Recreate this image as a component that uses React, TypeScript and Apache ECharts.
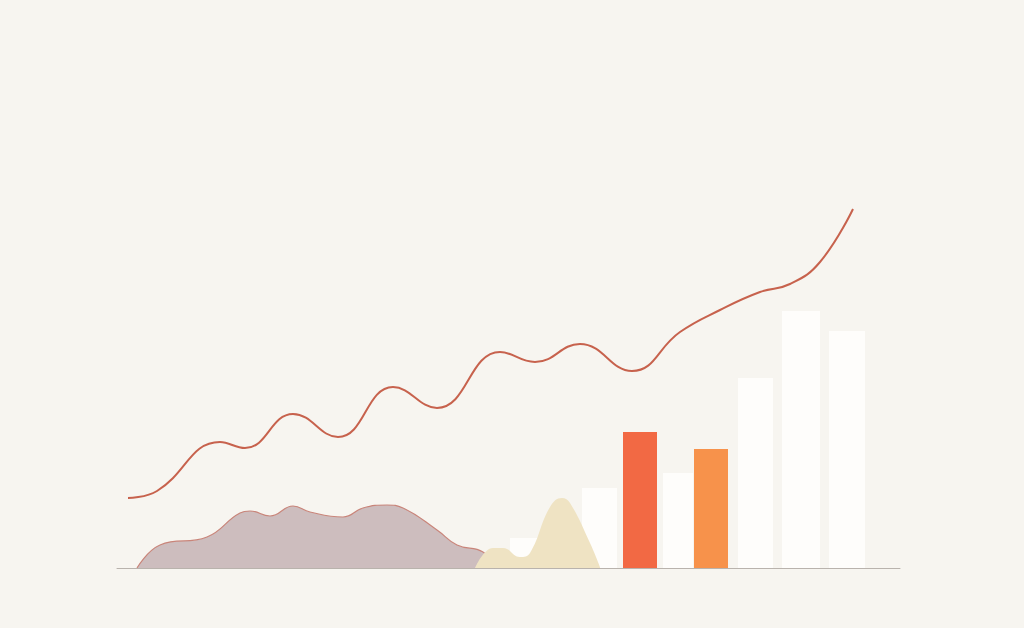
import React, { useEffect, useRef } from "react";
import * as echarts from "echarts";

// x in chart units (0..783 across the axis), y = height above baseline
const trendLine: [number, number][] = [
  [11, 70], [40, 77], [103, 126], [128, 120], [176, 154], [221, 131], [276, 181], [320, 160],
  [383, 216], [418, 206], [463, 224], [515, 197], [563, 236], [603, 258], [643, 276], [673, 284],
  [703, 306], [736, 359],
];

const mauveArea: [number, number][] = [
  [20, 0], [43, 23], [90, 31], [123, 55], [133, 57], [153, 52],
  [176, 62], [193, 56], [226, 51], [246, 60], [270, 63], [286, 60], [320, 38],
  [340, 23], [366, 16], [378, 0],
];

const beigeArea: [number, number][] = [
  [358, 0], [376, 20], [386, 20], [403, 11], [413, 15], [433, 61], [445, 70],
  [453, 65], [473, 25], [483, 1],
];

// bars: [left, right, height, colour index]
const barLeft = [393, 465, 506, 546, 577, 621, 665, 712];
const barRight = [420, 500, 540, 576, 611, 656, 703, 748];
const barHeight = [30, 80, 136, 95, 119, 190, 257, 237];
const barColorIdx = [0, 0, 1, 0, 2, 0, 0, 0];
const barColors = ["#fefdfb", "#f26944", "#f7924b"];

export default function App() {
  const ref = useRef<HTMLDivElement>(null);
  useEffect(() => {
    const chart = echarts.init(ref.current!, null, { renderer: "svg" });
    const barData = barLeft.map((l, i) => [l, barRight[i], barHeight[i], barColorIdx[i]]);
    chart.setOption({
      animation: false,
      backgroundColor: "#f7f5f0",
      grid: { left: 117, right: 124, top: 0, bottom: 60 },
      xAxis: {
        type: "value", min: 0, max: 783,
        axisLine: { show: true, lineStyle: { color: "#b9b3ad", width: 1 } },
        axisTick: { show: false }, axisLabel: { show: false }, splitLine: { show: false },
      },
      yAxis: {
        type: "value", min: 0, max: 568,
        axisLine: { show: false }, axisTick: { show: false }, axisLabel: { show: false }, splitLine: { show: false },
      },
      series: [
        {
          type: "custom",
          z: 1,
          data: barData,
          renderItem: (params: any, api: any) => {
            const p0 = api.coord([api.value(0), api.value(2)]);
            const p1 = api.coord([api.value(1), 0]);
            const c = barColors[api.value(3)];
            return {
              type: "rect",
              shape: { x: p0[0], y: p0[1], width: p1[0] - p0[0], height: p1[1] - p0[1] },
              style: { fill: c },
            };
          },
        },
        {
          type: "line", z: 2, smooth: 0.45, symbol: "none", data: mauveArea,
          lineStyle: { color: "#c9857a", width: 1.2 },
          areaStyle: { color: "#cdbdbe", opacity: 1 },
        },
        {
          type: "line", z: 3, smooth: 0.45, symbol: "none", data: beigeArea,
          lineStyle: { width: 0 },
          areaStyle: { color: "#efe3c3", opacity: 1 },
        },
        {
          type: "line", z: 4, smooth: 0.45, symbol: "none", data: trendLine,
          lineStyle: { color: "#c7624d", width: 2 },
        },
      ],
    });
    return () => chart.dispose();
  }, []);
  return (
    <div
      ref={ref}
      style={{ position: "fixed", left: 0, top: 0, width: 1024, height: 628 }}
    />
  );
}
